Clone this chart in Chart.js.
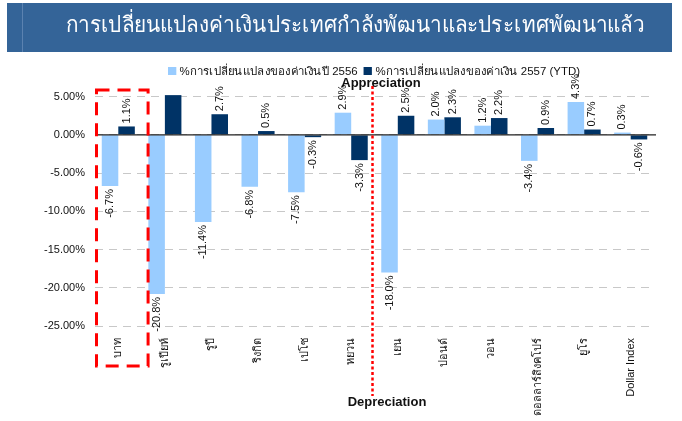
<!DOCTYPE html>
<html><head><meta charset="utf-8">
<script src="https://cdn.jsdelivr.net/npm/chart.js@4.4.1/dist/chart.umd.min.js"></script>
<style>
html,body{margin:0;padding:0;background:#fff;width:682px;height:421px;overflow:hidden;font-family:"Liberation Sans",Arial,sans-serif}
#wrap{position:relative;width:682px;height:421px}
#chart{position:absolute;left:0;top:0}
#band{position:absolute;left:7px;top:3px;width:665px;height:49px;background:#346498;border-left:0;}
#band .stripe{position:absolute;left:15px;top:0;width:1px;height:49px;background:#5b82b0}
#title{position:absolute;left:0;top:0;width:682px;height:49px;line-height:49px;text-align:center;color:#fff;font-size:22px;white-space:nowrap}
#title span{display:inline-block;transform-origin:center center}
#legend{position:absolute;left:168px;top:62px;font-size:11px;color:#111;white-space:nowrap}
#legend span{display:inline-block;transform-origin:left center}
#legend i{display:inline-block;width:8px;height:8px;margin-right:3px;vertical-align:0px}
.lbl{position:absolute;font-weight:bold;font-size:13px;color:#111;white-space:nowrap;transform:translateX(-50%)}
</style></head>
<body><div id="wrap">
<canvas id="chart" width="682" height="421"></canvas>
<div id="band"><div class="stripe"></div></div>
<div id="title"><span id="tt">การเปลี่ยนแปลงค่าเงินประเทศกำลังพัฒนาและประเทศพัฒนาแล้ว</span></div>
<div id="legend"><span id="lg"><i style="background:#99CCFF"></i>%การเปลี่ยนแปลงของค่าเงินปี 2556 <i style="background:#003366;margin-left:3px"></i>%การเปลี่ยนแปลงของค่าเงิน 2557 (YTD)</span></div>
<div class="lbl" style="left:381px;top:75px">Appreciation</div>
<div class="lbl" style="left:387px;top:394px">Depreciation</div>
</div>
<script>
const categories = ["บาท","รูเปียห์","รูปี","ริงกิต","เปโซ","หยวน","เยน","ปอนด์","วอน","ดอลลาร์สิงคโปร์","ยูโร","Dollar Index"];
const change2556 = [-6.7,-20.8,-11.4,-6.8,-7.5,2.9,-18.0,2.0,1.2,-3.4,4.3,0.3];
const change2557 = [1.1,5.2,2.7,0.5,-0.3,-3.3,2.5,2.3,2.2,0.9,0.7,-0.6];
const seriesNames = ["%การเปลี่ยนแปลงของค่าเงินปี 2556","%การเปลี่ยนแปลงของค่าเงิน 2557 (YTD)"];
const yTicks = [5,0,-5,-10,-15,-20,-25];
const unlabeled = [[],[1]];

// fit title and legend widths
(function(){
  const s=document.getElementById('tt');
  const w=s.getBoundingClientRect().width;
  s.style.transform='translateX(14px) scaleX('+(578/w)+')';
  const l=document.getElementById('lg');
  const lw=l.getBoundingClientRect().width;
  l.style.transform='scaleX('+(412/lw)+')';
})();

const valueLabels = {
  id:'valueLabels',
  afterDatasetsDraw(chart){
    const ctx=chart.ctx;
    const ys=chart.scales.y, xs=chart.scales.x;
    const z=ys.getPixelForValue(0);
    ctx.save();
    ctx.strokeStyle='#222';ctx.lineWidth=1.2;
    ctx.beginPath();ctx.moveTo(xs.left,z);ctx.lineTo(xs.right+2,z);ctx.stroke();
    ctx.restore();
    ctx.save();
    ctx.font='11px "Liberation Sans", Arial, sans-serif';
    ctx.fillStyle='#111';
    chart.data.datasets.forEach((ds,di)=>{
      const meta=chart.getDatasetMeta(di);
      meta.data.forEach((bar,i)=>{
        if(unlabeled[di].includes(i)) return;
        const v=ds.data[i];
        const t=v.toFixed(1)+'%';
        ctx.save();
        ctx.translate(bar.x, bar.y+(v>=0?-3:3));
        ctx.rotate(-Math.PI/2);
        ctx.textAlign=v>=0?'left':'right';
        ctx.textBaseline='middle';
        ctx.fillText(t,0,0);
        ctx.restore();
      });
    });
    ctx.restore();
  },
  afterDraw(chart){
    const ctx=chart.ctx, xs=chart.scales.x, ca=chart.chartArea;
    const cw=(xs.right-xs.left)/categories.length;
    ctx.save();
    ctx.strokeStyle='#ff0000';
    ctx.lineWidth=3;
    ctx.setLineDash([13,8]);
    ctx.strokeRect(xs.left+1.5, ca.top+1, cw+5, 366-ca.top-1);
    ctx.setLineDash([3,2.5]);
    ctx.lineWidth=2.5;
    ctx.beginPath();
    const lx=xs.left+6*cw-2;
    ctx.moveTo(lx,86);ctx.lineTo(lx,396);ctx.stroke();
    ctx.restore();
  }
};

new Chart(document.getElementById('chart'),{
  type:'bar',
  data:{labels:categories,datasets:[
    {label:seriesNames[0],data:change2556,backgroundColor:'#99CCFF',categoryPercentage:0.71,barPercentage:1},
    {label:seriesNames[1],data:change2557,backgroundColor:'#003366',categoryPercentage:0.71,barPercentage:1}
  ]},
  options:{
    responsive:false,animation:false,
    layout:{padding:{top:89,left:0,right:28,bottom:0}},
    plugins:{legend:{display:false},tooltip:{enabled:false}},
    scales:{
      x:{
        grid:{display:false},
        border:{display:false},
        ticks:{minRotation:90,maxRotation:90,autoSkip:false,padding:4,color:'#111',font:{size:11,family:'"Liberation Sans", Arial, sans-serif'}},
        afterFit(s){s.height=95;}
      },
      y:{
        min:-25,max:6,
        afterBuildTicks(s){s.ticks=yTicks.map(v=>({value:v}));},
        grid:{color:'#c8c8c8',lineWidth:1,drawTicks:false},
        border:{display:false,dash:[8,6]},
        ticks:{padding:10,color:'#111',font:{size:11,family:'"Liberation Sans", Arial, sans-serif'},callback:v=>v.toFixed(2)+'%'},
        afterFit(s){s.width=95;}
      }
    }
  },
  plugins:[valueLabels]
});
</script>
</body></html>
